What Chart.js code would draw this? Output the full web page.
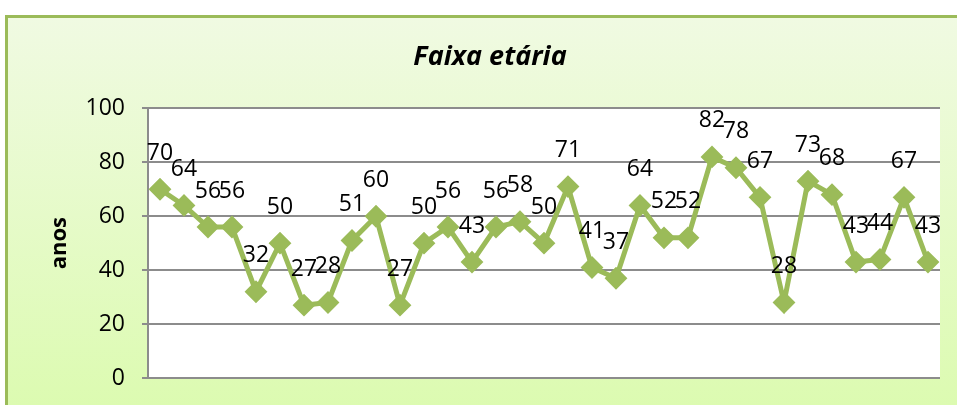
<!DOCTYPE html>
<html>
<head>
<meta charset="utf-8">
<script src="https://cdn.jsdelivr.net/npm/chart.js@4.4.1/dist/chart.umd.min.js"></script>
<style>
  body { margin: 0; background: #fff; overflow: hidden; }
  #frame {
    position: absolute; left: 5px; top: 15px; width: 980px; height: 410px;
    border-left: 3px solid #9bbb59; border-top: 3px solid #9bbb59;
    background: linear-gradient(#f0fae2, #dbfbae);
  }
  #wrap { position: absolute; left: 0; top: 0; width: 957px; height: 405px; }
</style>
</head>
<body>
<div id="frame"></div>
<div id="wrap"><canvas id="myChart"></canvas></div>
<script>
var labels = ["1", "2", "3", "4", "5", "6", "7", "8", "9", "10", "11", "12", "13", "14", "15", "16", "17",
  "18", "19", "20", "21", "22", "23", "24", "25", "26", "27", "28", "29", "30", "31", "32", "33"];
var ages = [70, 64, 56, 56, 32, 50, 27, 28, 51, 60, 27, 50, 56, 43, 56, 58, 50,
  71, 41, 37, 64, 52, 52, 82, 78, 67, 28, 73, 68, 43, 44, 67, 43];
var yTicks = [0, 20, 40, 60, 80, 100];

var fontFamily = "'Open Sans', 'Liberation Sans', sans-serif";

// white plot area
var plotBg = {
  id: "plotBg",
  beforeDraw: function (chart) {
    var a = chart.chartArea;
    var c = chart.ctx;
    c.save();
    c.fillStyle = "#ffffff";
    c.fillRect(a.left, a.top, a.right - a.left, a.bottom - a.top);
    c.restore();
  },
};

// value labels above each point
var valueLabels = {
  id: "valueLabels",
  afterDatasetsDraw: function (chart) {
    var c = chart.ctx;
    var meta = chart.getDatasetMeta(0);
    c.save();
    c.font = "23px " + fontFamily;
    c.fillStyle = "#000";
    c.textAlign = "center";
    c.textBaseline = "middle";
    meta.data.forEach(function (pt, i) {
      c.fillText(String(ages[i]), pt.x, pt.y - 36);
    });
    c.restore();
  },
};

var ctx = document.getElementById("myChart");
var myChart = new Chart(ctx, {
  type: "line",
  data: {
    labels: labels,
    datasets: [
      {
        label: "anos",
        data: ages,
        borderColor: "#9bbb59",
        backgroundColor: "#9bbb59",
        borderWidth: 5,
        pointStyle: "rectRot",
        pointRadius: 10,
        pointBorderWidth: 2,
        tension: 0,
      },
    ],
  },
  options: {
    responsive: true,
    maintainAspectRatio: false,
    animation: false,
    layout: { padding: { left: 40, right: 17, top: 0, bottom: 27 } },
    plugins: {
      legend: { display: false },
      tooltip: { enabled: false },
      title: {
        display: true,
        text: "Faixa etária",
        color: "#000",
        font: { family: fontFamily, size: 27, weight: "bold", style: "italic" },
        padding: { top: 41, bottom: 35 },
      },
    },
    scales: {
      x: {
        display: false,
        offset: true,
      },
      y: {
        min: 0,
        max: 100,
        afterBuildTicks: function (scale) {
          scale.ticks = yTicks.map(function (v) { return { value: v }; });
        },
        afterFit: function (scale) {
          scale.width = 108;
          scale.paddingBottom = 0;
          scale.paddingTop = 0;
        },
        border: { display: true, color: "#8c8c8c", width: 2 },
        grid: { color: "#8c8c8c", lineWidth: 2, tickLength: 6, drawTicks: true },
        ticks: {
          color: "#000",
          padding: 17,
          font: { family: fontFamily, size: 23 },
        },
        title: {
          display: true,
          text: "anos",
          color: "#000",
          font: { family: fontFamily, size: 22, weight: "bold" },
          padding: { top: 7, bottom: 0 },
        },
      },
    },
  },
  plugins: [plotBg, valueLabels],
});
</script>
</body>
</html>
